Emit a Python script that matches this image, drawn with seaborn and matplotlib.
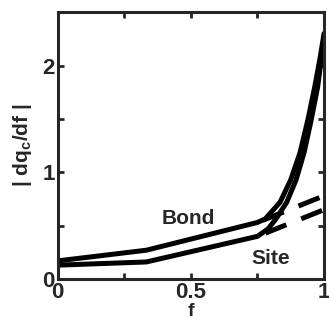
import pandas as pd
import matplotlib
matplotlib.use("Agg")
import matplotlib.pyplot as plt
import seaborn as sns

# solid curves
bond_f = [0.0, 0.333, 0.75, 0.78, 0.835, 0.875, 0.91, 0.94, 0.965, 0.985, 1.0]
bond_vals = [0.17, 0.27, 0.53, 0.565, 0.72, 0.93, 1.185, 1.5, 1.8, 2.07, 2.3]
site_f = [0.0, 0.333, 0.75, 0.79, 0.82, 0.86, 0.895, 0.925, 0.95, 0.976, 1.0]
site_vals = [0.13, 0.16, 0.40, 0.47, 0.565, 0.72, 0.93, 1.185, 1.47, 1.8, 2.26]

# dashed linear continuations
f_dash_bond = [0.77, 1.0]
bond_dash = [0.55, 0.78]
f_dash_site = [0.78, 1.0]
site_dash = [0.43, 0.65]

sns.set_style("ticks")
plt.rcParams['font.family'] = ['Liberation Sans', 'DejaVu Sans']
plt.rcParams['font.weight'] = 'bold'
plt.rcParams['mathtext.fontset'] = 'custom'
plt.rcParams['mathtext.rm'] = 'Liberation Sans:bold'
plt.rcParams['mathtext.it'] = 'Liberation Sans:bold'
plt.rcParams['mathtext.bf'] = 'Liberation Sans:bold'

fig, ax = plt.subplots(figsize=(3.29, 3.20), dpi=100)
fig.subplots_adjust(left=0.175, right=0.985, top=0.962, bottom=0.128)

df = pd.DataFrame({'f': bond_f + site_f,
                   'y': bond_vals + site_vals,
                   'kind': ['Bond'] * len(bond_f) + ['Site'] * len(site_f)})
sns.lineplot(data=df, x='f', y='y', units='kind', estimator=None, color='black',
             linewidth=3.6, ax=ax, sort=False)
ax.plot(f_dash_bond, bond_dash, color='black', linewidth=3.6, dashes=(4.5, 3.2))
ax.plot(f_dash_site, site_dash, color='black', linewidth=3.6, dashes=(4.5, 3.2))

ax.text(0.49, 0.57, 'Bond', fontsize=15, fontweight='bold', ha='center', va='center')
ax.text(0.80, 0.19, 'Site', fontsize=15, fontweight='bold', ha='center', va='center')

ax.set_xlim(0, 1)
ax.set_ylim(0, 2.5)
ax.set_xticks([0, 0.25, 0.5, 0.75, 1])
ax.set_xticklabels(['0', '', '0.5', '', '1'])
ax.set_yticks([0, 0.5, 1, 1.5, 2])
ax.set_yticklabels(['0', '', '1', '', '2'])
ax.tick_params(direction='in', length=4, width=2, top=True, right=True,
               labelsize=16, pad=2)
for lab in ax.get_xticklabels() + ax.get_yticklabels():
    lab.set_fontweight('bold')
for s in ax.spines.values():
    s.set_linewidth(2.2)
    s.set_visible(True)
ax.set_xlabel('f', fontsize=14, fontweight='bold')
ax.xaxis.set_label_coords(0.5, -0.088)
ax.set_ylabel(r'| dq$_\mathrm{c}$/df |', fontsize=15, fontweight='bold')
ax.yaxis.set_label_coords(-0.088, 0.5)

fig.savefig('out.png', dpi=100)
